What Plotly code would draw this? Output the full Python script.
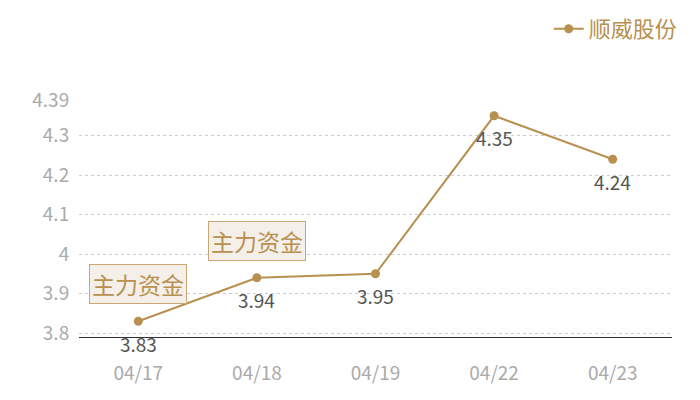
import plotly.graph_objects as go

dates = ['04/17', '04/18', '04/19', '04/22', '04/23']
prices = [3.83, 3.94, 3.95, 4.35, 4.24]
price_labels = ['3.83', '3.94', '3.95', '4.35', '4.24']
y_ticks = [3.8, 3.9, 4.0, 4.1, 4.2, 4.3, 4.39]
y_tick_text = ['3.8', '3.9', '4', '4.1', '4.2', '4.3', '4.39']
flow_dates = ['04/17', '04/18']
flow_prices = [3.83, 3.94]
flow_text = '主力资金'
series_name = '顺威股份'

GOLD = '#b8904f'
FONT = 'Noto Sans CJK SC, Microsoft YaHei, sans-serif'

fig = go.Figure()
fig.add_trace(go.Scatter(
    x=dates, y=prices, name=series_name,
    mode='lines+markers',
    line=dict(color=GOLD, width=2),
    marker=dict(color=GOLD, size=9),
))

# value labels under each point
for d, p, t in zip(dates, prices, price_labels):
    fig.add_annotation(
        x=d, y=p, text=t, showarrow=False,
        yanchor='middle', yshift=-22,
        font=dict(color='#555555', size=19, family=FONT),
    )

# "main capital" tags
for d, p in zip(flow_dates, flow_prices):
    fig.add_annotation(
        x=d, y=p, text=flow_text, showarrow=False,
        yanchor='bottom', yshift=17,
        font=dict(color=GOLD, size=23, family=FONT),
        bgcolor='#f4efe9', bordercolor='#caa673', borderwidth=1, borderpad=2,
    )

# page body has an 8px margin, so the figure is sized to fit the window
fig.update_layout(
    width=692, height=392,
    margin=dict(l=71, r=28, t=92, b=63),
    plot_bgcolor='white', paper_bgcolor='white',
    font=dict(family=FONT),
    showlegend=True,
    legend=dict(xref='container', yref='container',
                x=0.975, xanchor='right', y=1.0, yanchor='top',
                orientation='h', font=dict(color=GOLD, size=22, family=FONT),
                bgcolor='rgba(0,0,0,0)'),
)
fig.update_xaxes(
    type='category', range=[-0.5, 4.5],
    showgrid=False, showline=True, linecolor='#333333', linewidth=1,
    ticks='outside', ticklen=19, tickcolor='rgba(0,0,0,0)',
    tickfont=dict(color='#aaaaaa', size=19, family=FONT),
)
fig.update_yaxes(
    range=[3.79, 4.39], tickvals=y_ticks, ticktext=y_tick_text,
    showgrid=True, gridcolor='#cccccc', griddash='dot', gridwidth=1,
    zeroline=False, showline=False,
    ticks='outside', ticklen=5, tickcolor='rgba(0,0,0,0)',
    tickfont=dict(color='#aaaaaa', size=19, family=FONT),
)

fig.write_html('out.html')
